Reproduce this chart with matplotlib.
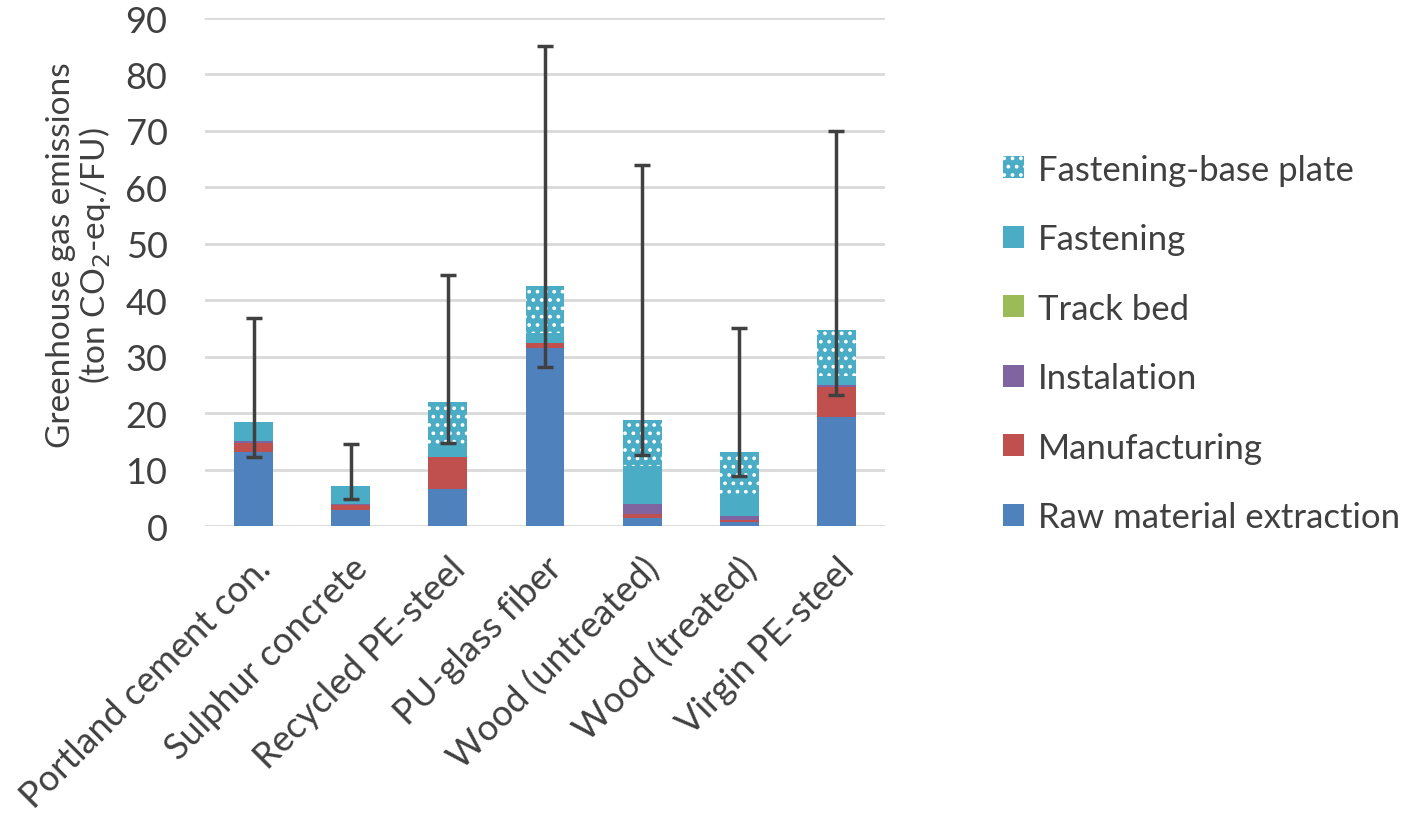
import numpy as np
import matplotlib
matplotlib.use('Agg')
import matplotlib.pyplot as plt
from matplotlib.patches import Patch

plt.rcParams['font.family'] = ['Lato', 'DejaVu Sans']
plt.rcParams['hatch.linewidth'] = 1.5

categories = ['Portland cement con.', 'Sulphur concrete', 'Recycled PE-steel',
              'PU-glass fiber', 'Wood (untreated)', 'Wood (treated)', 'Virgin PE-steel']

# componentes apilados (ton CO2-eq./FU)
raw_material = [13.2, 2.9, 6.6, 31.5, 1.4, 0.65, 19.4]
manufacturing = [1.5, 0.8, 5.6, 0.9, 0.7, 0.4, 5.2]
instalation = [0.4, 0.2, 0.0, 0.0, 1.8, 0.75, 0.4]
track_bed = [0.0, 0.0, 0.0, 0.0, 0.0, 0.0, 0.0]
fastening = [3.3, 3.2, 1.6, 1.8, 6.7, 3.2, 1.6]
fastening_base_plate = [0.0, 0.0, 8.2, 8.3, 8.2, 8.2, 8.2]

# rango de incertidumbre (min / max)
err_low = [12.2, 4.8, 14.7, 28.2, 12.6, 8.8, 23.2]
err_high = [36.9, 14.5, 44.5, 85.0, 64.0, 35.0, 70.0]

series = [
    ('Raw material extraction', raw_material, '#4F81BD', None),
    ('Manufacturing', manufacturing, '#C0504D', None),
    ('Instalation', instalation, '#8064A2', None),
    ('Track bed', track_bed, '#9BBB59', None),
    ('Fastening', fastening, '#4BACC6', None),
    ('Fastening-base plate', fastening_base_plate, '#4BACC6', '..'),
]

text_color = '#404040'

fig = plt.figure(figsize=(14.17, 8.2), dpi=100)
ax = fig.add_axes([0.1447, 0.3573, 0.4799, 0.6195])

x = np.arange(len(categories))
bottom = np.zeros(len(categories))
handles = []
for name, vals, color, hatch in series:
    vals = np.array(vals)
    if hatch:
        ax.bar(x, vals, 0.4, bottom=bottom, color=color, edgecolor='white',
               linewidth=0, hatch=hatch, zorder=2)
        handles.append(Patch(facecolor=color, edgecolor='white', linewidth=0,
                             hatch=hatch, label=name))
    else:
        ax.bar(x, vals, 0.4, bottom=bottom, color=color, linewidth=0, zorder=2)
        handles.append(Patch(facecolor=color, linewidth=0, label=name))
    bottom += vals

# barras de error: de min a max
mid = (np.array(err_low) + np.array(err_high)) / 2
half = (np.array(err_high) - np.array(err_low)) / 2
ax.errorbar(x, mid, yerr=half, fmt='none', ecolor='#404040', elinewidth=2.5,
            capsize=6, capthick=2.5, zorder=3)

ax.set_xlim(-0.5, len(categories) - 0.5)
ax.set_ylim(0, 90)
ax.set_yticks(range(0, 91, 10))
ax.yaxis.grid(True, color='#D9D9D9', linewidth=2, zorder=0)
ax.set_axisbelow(True)
for s in ax.spines.values():
    s.set_visible(False)
ax.tick_params(axis='both', length=0, labelsize=26, colors=text_color)
ax.tick_params(axis='y', pad=27)
ax.set_xticks(x)
ax.set_xticklabels(categories, rotation=45, ha='right', rotation_mode='anchor')
ax.tick_params(axis='x', pad=18)

ax.set_ylabel('Greenhouse gas emissions\n(ton CO$_2$-eq./FU)', fontsize=24,
              color=text_color, linespacing=1.05)
ax.yaxis.set_label_coords(-0.135, 0.535)

leg = fig.legend(handles=handles[::-1], loc='center left',
                 bbox_to_anchor=(0.686, 0.580), frameon=False, fontsize=25,
                 handlelength=0.6, handleheight=0.6, handletextpad=0.4,
                 labelspacing=1.08)
for t in leg.get_texts():
    t.set_color(text_color)

fig.savefig('out.png', dpi=100)
